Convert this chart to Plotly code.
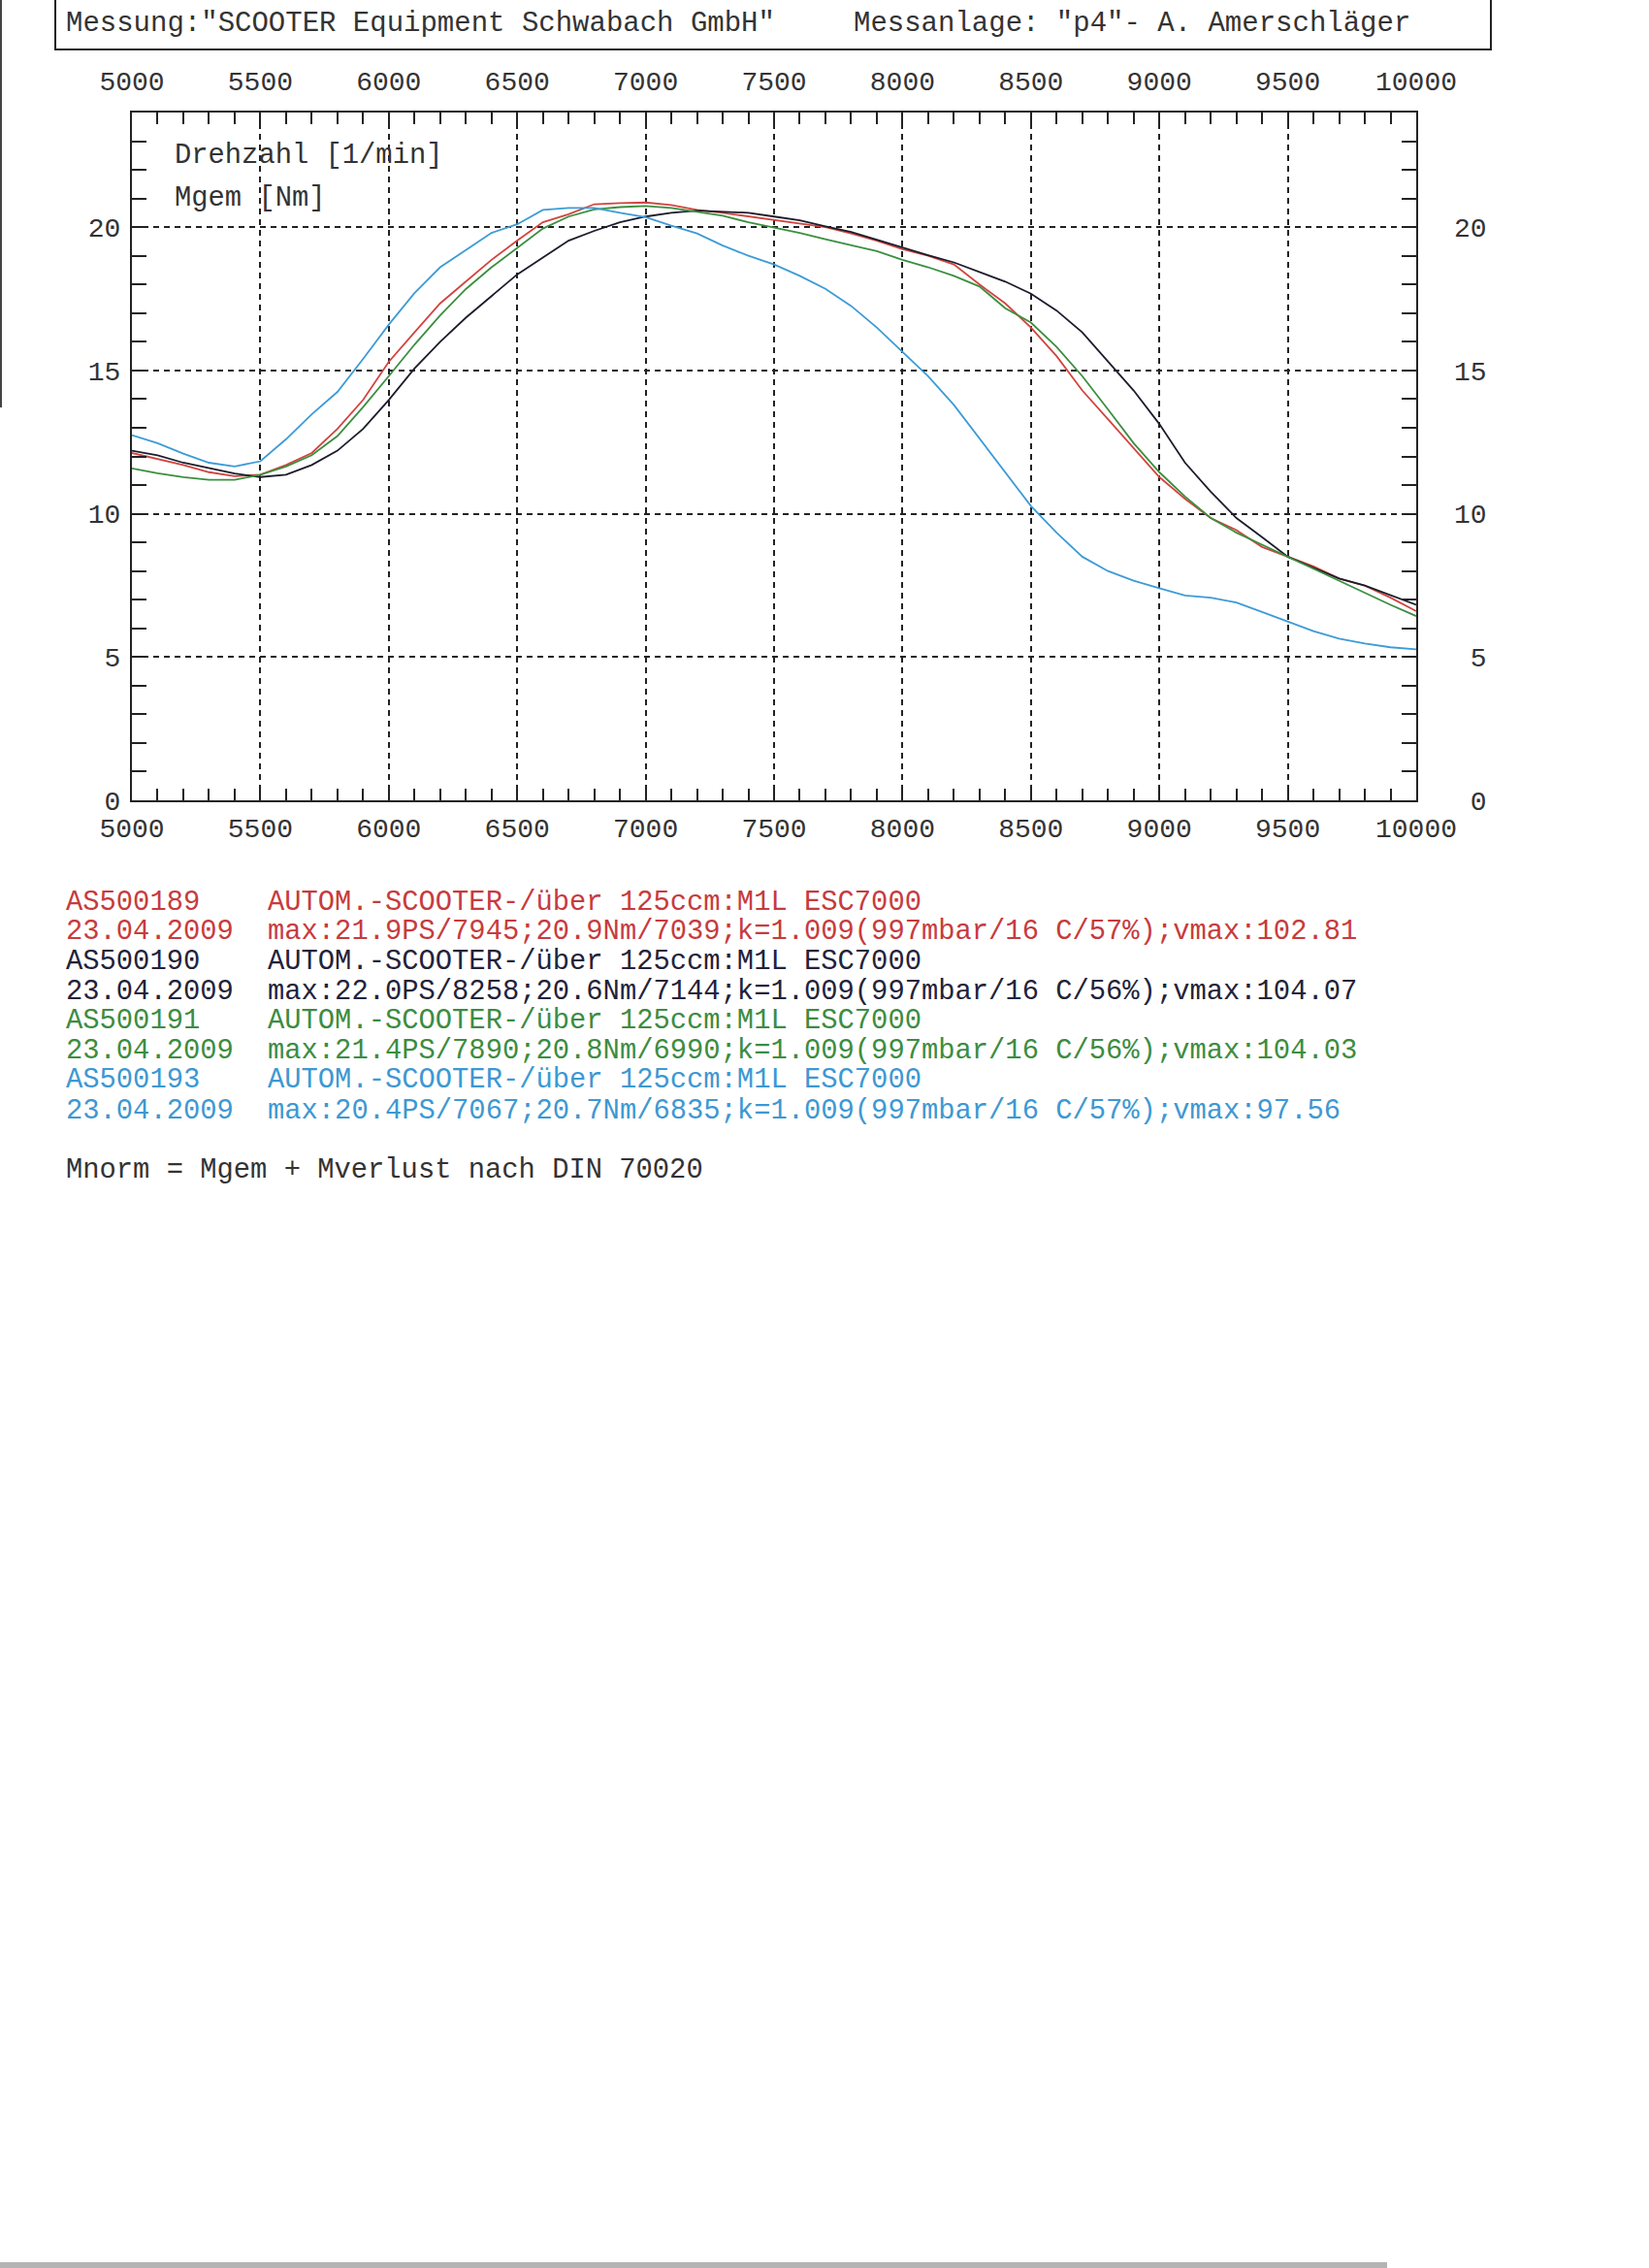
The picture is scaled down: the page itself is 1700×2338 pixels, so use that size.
import plotly.graph_objects as go

# ---------------- data ----------------
rpm = [5000, 5100, 5200, 5300, 5400, 5500, 5600, 5700, 5800, 5900,
       6000, 6100, 6200, 6300, 6400, 6500, 6600, 6700, 6800, 6900,
       7000, 7100, 7200, 7300, 7400, 7500, 7600, 7700, 7800, 7900,
       8000, 8100, 8200, 8300, 8400, 8500, 8600, 8700, 8800, 8900,
       9000, 9100, 9200, 9300, 9400, 9500, 9600, 9700, 9800, 9900,
       10000]

torque_as500189 = [12.12, 11.92, 11.70, 11.45, 11.31, 11.36, 11.70, 12.12, 12.96, 13.97,
                   15.30, 16.33, 17.34, 18.10, 18.86, 19.53, 20.17, 20.45, 20.80, 20.84,
                   20.86, 20.77, 20.60, 20.50, 20.37, 20.24, 20.12, 20.00, 19.78, 19.53,
                   19.23, 19.00, 18.70, 18.00, 17.34, 16.50, 15.50, 14.30, 13.30, 12.30,
                   11.28, 10.52, 9.85, 9.43, 8.84, 8.50, 8.16, 7.74, 7.49, 7.07,
                   6.60]

torque_as500190 = [12.20, 12.04, 11.78, 11.58, 11.40, 11.28, 11.36, 11.70, 12.20, 12.96,
                   13.97, 15.07, 16.00, 16.84, 17.60, 18.35, 18.94, 19.53, 19.87, 20.17,
                   20.37, 20.50, 20.58, 20.54, 20.50, 20.37, 20.24, 20.03, 19.83, 19.56,
                   19.28, 19.02, 18.77, 18.43, 18.10, 17.68, 17.09, 16.33, 15.32, 14.30,
                   13.13, 11.78, 10.77, 9.85, 9.18, 8.50, 8.11, 7.74, 7.49, 7.15,
                   6.82]

torque_as500191 = [11.58, 11.41, 11.28, 11.18, 11.18, 11.36, 11.65, 12.04, 12.71, 13.72,
                   14.80, 15.90, 16.92, 17.84, 18.60, 19.28, 19.95, 20.37, 20.62, 20.70,
                   20.74, 20.67, 20.54, 20.40, 20.17, 19.98, 19.80, 19.58, 19.36, 19.16,
                   18.86, 18.60, 18.30, 17.93, 17.17, 16.67, 15.82, 14.80, 13.64, 12.46,
                   11.45, 10.60, 9.85, 9.34, 8.92, 8.50, 8.08, 7.66, 7.24, 6.82,
                   6.43]

torque_as500193 = [12.74, 12.46, 12.10, 11.78, 11.65, 11.83, 12.60, 13.47, 14.25, 15.40,
                   16.60, 17.70, 18.60, 19.20, 19.80, 20.10, 20.60, 20.67, 20.67, 20.50,
                   20.35, 20.05, 19.78, 19.36, 19.00, 18.70, 18.30, 17.85, 17.25, 16.50,
                   15.65, 14.80, 13.80, 12.63, 11.45, 10.27, 9.34, 8.50, 8.00, 7.66,
                   7.40, 7.15, 7.07, 6.90, 6.57, 6.23, 5.90, 5.64, 5.47, 5.34,
                   5.27]

run_ids = ["AS500189", "AS500190", "AS500191", "AS500193"]
run_dates = ["23.04.2009", "23.04.2009", "23.04.2009", "23.04.2009"]
run_desc = "AUTOM.-SCOOTER-/über 125ccm:M1L ESC7000"
run_max = [
    "max:21.9PS/7945;20.9Nm/7039;k=1.009(997mbar/16 C/57%);vmax:102.81",
    "max:22.0PS/8258;20.6Nm/7144;k=1.009(997mbar/16 C/56%);vmax:104.07",
    "max:21.4PS/7890;20.8Nm/6990;k=1.009(997mbar/16 C/56%);vmax:104.03",
    "max:20.4PS/7067;20.7Nm/6835;k=1.009(997mbar/16 C/57%);vmax:97.56",
]
x_ticks = [5000, 5500, 6000, 6500, 7000, 7500, 8000, 8500, 9000, 9500, 10000]
y_ticks = [0, 5, 10, 15, 20]

header_left = 'Messung:"SCOOTER Equipment Schwabach GmbH"'
header_right = 'Messanlage: "p4"- A. Amerschläger'
axis_label_1 = "Drehzahl [1/min]"
axis_label_2 = "Mgem [Nm]"
footnote = "Mnorm = Mgem + Mverlust nach DIN 70020"

# ---------------- styling ----------------
W, H = 1700, 2338
FONT = "Liberation Mono"
line_colors = ["#d2443f", "#1c1c2c", "#3a8f3f", "#3d9bd6"]
text_colors = ["#c73b3d", "#22223a", "#3c8c40", "#3d98d2"]
series = [torque_as500189, torque_as500190, torque_as500191, torque_as500193]

px_left, px_right, px_top, px_bottom = 136, 1460, 116, 825

def fx(p):
    return p / W

def fy(p):
    return 1 - p / H

fig = go.Figure()
for name, ys, c in zip(run_ids, series, line_colors):
    fig.add_trace(go.Scatter(x=rpm, y=ys, mode="lines", name=name,
                             line=dict(color=c, width=1.8), showlegend=False,
                             xaxis="x", yaxis="y"))
# invisible trace to activate secondary axes
fig.add_trace(go.Scatter(x=[rpm[0]], y=[torque_as500189[0]], mode="markers",
                         marker=dict(opacity=0), showlegend=False, hoverinfo="skip",
                         xaxis="x2", yaxis="y2"))

tickfont = dict(family=FONT, size=28, color="#333333")
common_x = dict(range=[5000, 10000], tickvals=x_ticks, ticktext=[str(v) for v in x_ticks],
                ticks="inside", ticklen=12, tickwidth=1.5, tickcolor="#222",
                minor=dict(dtick=100, tick0=5000, ticks="inside", ticklen=12,
                           tickwidth=1.5, tickcolor="#222", showgrid=False),
                tickfont=tickfont, zeroline=False, fixedrange=True, automargin=False)
common_y = dict(range=[0, 24], tickvals=y_ticks,
                ticks="inside", ticklen=15, tickwidth=1.5, tickcolor="#222",
                minor=dict(dtick=1, tick0=0, ticks="inside", ticklen=15,
                           tickwidth=1.5, tickcolor="#222", showgrid=False),
                tickfont=tickfont, zeroline=False, fixedrange=True, automargin=False)

fig.update_layout(
    template="none",
    width=W, height=H, autosize=False,
    margin=dict(l=0, r=0, t=0, b=0, pad=0),
    paper_bgcolor="white", plot_bgcolor="white",
    font=dict(family=FONT, size=28, color="#333333"),
    xaxis=dict(domain=[fx(px_left), fx(px_right)], side="bottom",
               showline=True, linecolor="#222", linewidth=2, mirror=True,
               showgrid=True, gridcolor="#222", gridwidth=1.5, griddash="6px,5px",
               ticklabelstandoff=2, anchor="y", **common_x),
    xaxis2=dict(domain=[fx(px_left), fx(px_right)], side="top", overlaying="x",
                matches="x", showline=False, showgrid=False, anchor="y",
                ticklabelstandoff=16, **common_x),
    yaxis=dict(domain=[fy(px_bottom), fy(px_top)], side="left",
               ticktext=[str(v) for v in y_ticks],
               showline=True, linecolor="#222", linewidth=2, mirror=True,
               showgrid=True, gridcolor="#222", gridwidth=1.5, griddash="6px,5px",
               ticklabelstandoff=4, anchor="x", **common_y),
    yaxis2=dict(domain=[fy(px_bottom), fy(px_top)], side="right", overlaying="y",
                matches="y", showline=False, showgrid=False, anchor="x",
                ticktext=[("\u00a0" + str(v)) if v < 10 else str(v) for v in y_ticks],
                ticklabelstandoff=38, **common_y),
)

# header box
fig.add_shape(type="rect", xref="paper", yref="paper",
              x0=fx(57), x1=fx(1537), y0=fy(51), y1=fy(-1),
              line=dict(color="#222", width=2), fillcolor="rgba(0,0,0,0)")
# scan edge artefacts of the paper copy
fig.add_shape(type="rect", xref="paper", yref="paper",
              x0=0, x1=fx(2), y0=fy(420), y1=1,
              line=dict(width=0), fillcolor="#444")
fig.add_shape(type="rect", xref="paper", yref="paper",
              x0=0, x1=fx(1430), y0=0, y1=fy(2332),
              line=dict(width=0), fillcolor="#b4b4b4")

annos = []
def txt(x, y, s, color="#333333", size=28.8):
    annos.append(dict(x=fx(x), y=fy(y), xref="paper", yref="paper", text=s,
                      showarrow=False, xanchor="left", yanchor="middle",
                      font=dict(family=FONT, size=size, color=color)))

txt(66, 24, header_left, size=29)
txt(878, 24, header_right, size=29)
txt(178, 160, axis_label_1)
txt(178, 204, axis_label_2)

row_y = [930, 961, 991, 1022, 1052, 1083, 1113, 1145]
for i in range(4):
    txt(66, row_y[2 * i], run_ids[i], text_colors[i])
    txt(274, row_y[2 * i], run_desc, text_colors[i])
    txt(66, row_y[2 * i + 1], run_dates[i], text_colors[i])
    txt(274, row_y[2 * i + 1], run_max[i], text_colors[i])
txt(66, 1206, footnote)
fig.update_layout(annotations=annos)

fig.write_html("out.html", config={"displayModeBar": False},
               post_script="document.body.style.margin='0';document.body.style.overflow='hidden';")
